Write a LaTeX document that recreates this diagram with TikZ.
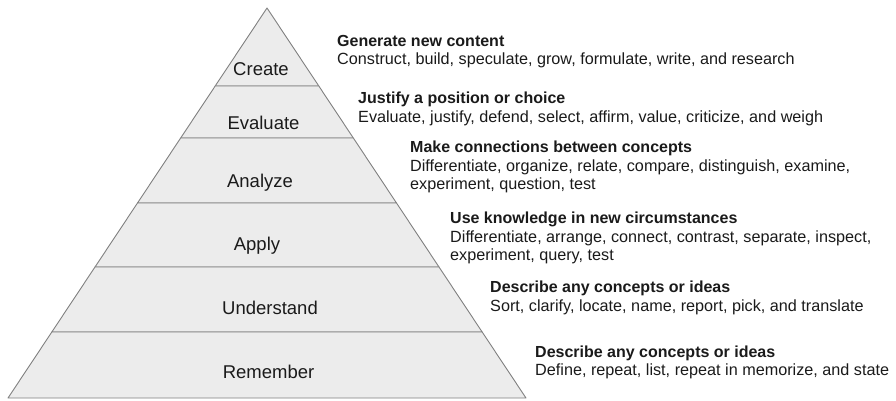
\documentclass[tikz,border=0pt]{standalone}
\usepackage{fontspec}
\setmainfont{Liberation Sans}
\usetikzlibrary{calc}
\definecolor{tierfill}{HTML}{ECECEC}
\definecolor{tierline}{HTML}{808080}
\definecolor{ink}{HTML}{1A1A1A}
\begin{document}
\begin{tikzpicture}[x=1pt,y=-1pt,
  tier/.style={fill=tierfill,draw=tierline,line width=0.9pt,line join=round},
  level/.style={font=\fontsize{18.5}{20}\selectfont,text=ink,anchor=base,inner sep=0pt},
  head/.style={font=\fontsize{16}{19}\selectfont\bfseries,text=ink,anchor=base west,inner sep=0pt},
  body/.style={font=\fontsize{16.2}{19}\selectfont,text=ink,anchor=base west,inner sep=0pt}]
\useasboundingbox (0,0) rectangle (896,401);

% pyramid outline points
\coordinate (apex) at (267,8);
\coordinate (bl) at (8,398);
\coordinate (br) at (526,398);

% tier boundaries, as fractions of the height from the apex
\foreach \n/\t in {1/0.2,2/0.3333,3/0.5,4/0.6641,5/0.8308}{
  \coordinate (l\n) at ($(apex)!\t!(bl)$);
  \coordinate (r\n) at ($(apex)!\t!(br)$);
}

% tiers, top to bottom
\path[tier] (apex) -- (r1) -- (l1) -- cycle;
\path[tier] (l1) -- (r1) -- (r2) -- (l2) -- cycle;
\path[tier] (l2) -- (r2) -- (r3) -- (l3) -- cycle;
\path[tier] (l3) -- (r3) -- (r4) -- (l4) -- cycle;
\path[tier] (l4) -- (r4) -- (r5) -- (l5) -- cycle;
\path[tier] (l5) -- (r5) -- (br) -- (bl) -- cycle;

% tier names
\node[level] (create)     at (261,76)  {Create};
\node[level] (evaluate)   at (263.5,129) {Evaluate};
\node[level] (analyze)    at (260,187) {Analyze};
\node[level] (apply)      at (257,250) {Apply};
\node[level] (understand) at (270,314) {Understand};
\node[level] (remember)   at (268.5,378) {Remember};

% descriptions
\node[head] (h1) at (337,47) {Generate new content};
\node[body] (b1) at (337,65) {Construct, build, speculate, grow, formulate, write, and research};

\node[head] (h2) at (358,104) {Justify a position or choice};
\node[body] (b2) at (358,123) {Evaluate, justify, defend, select, affirm, value, criticize, and weigh};

\node[head] (h3) at (410,152) {Make connections between concepts};
\node[body] (b3a) at (410,171) {Differentiate, organize, relate, compare, distinguish, examine,};
\node[body] (b3b) at (410,189) {experiment, question, test};

\node[head] (h4) at (450,223) {Use knowledge in new circumstances};
\node[body] (b4a) at (450,242) {Differentiate, arrange, connect, contrast, separate, inspect,};
\node[body] (b4b) at (450,260) {experiment, query, test};

\node[head] (h5) at (490,292) {Describe any concepts or ideas};
\node[body] (b5) at (490,311) {Sort, clarify, locate, name, report, pick, and translate};

\node[head] (h6) at (535,357) {Describe any concepts or ideas};
\node[body] (b6) at (535,375) {Define, repeat, list, repeat in memorize, and state};
\end{tikzpicture}
\end{document}
